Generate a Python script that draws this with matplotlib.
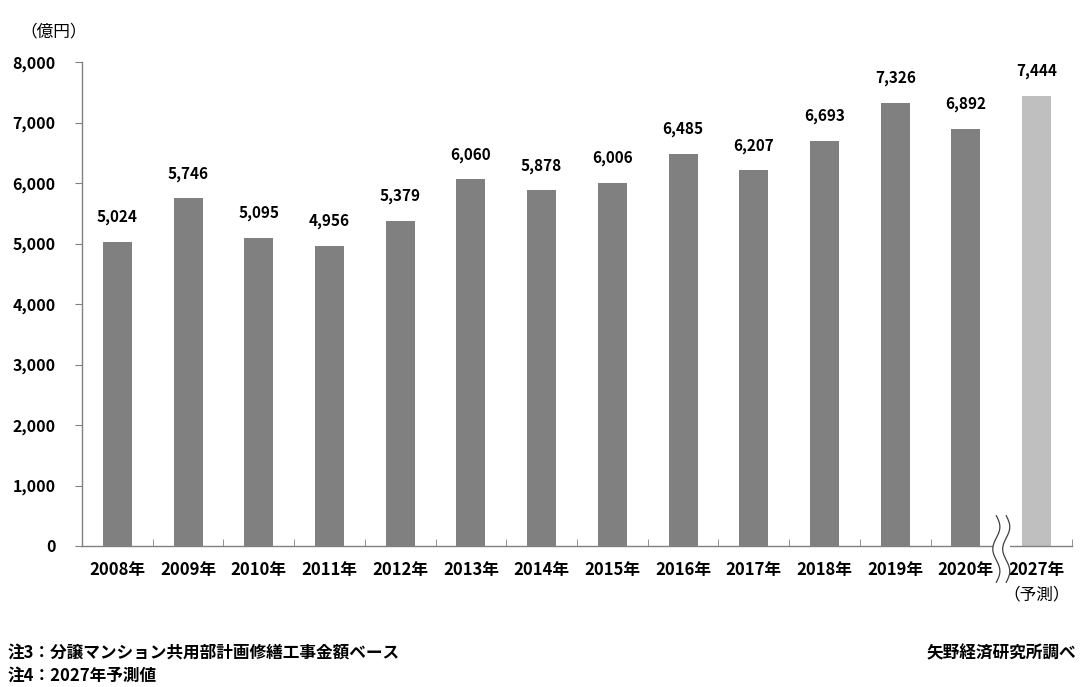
import matplotlib
matplotlib.use("Agg")
import matplotlib.pyplot as plt
import numpy as np
from matplotlib.patches import Rectangle

plt.rcParams['font.family'] = ['Noto Sans CJK JP', 'DejaVu Sans']

years = ["2008年", "2009年", "2010年", "2011年", "2012年", "2013年", "2014年",
         "2015年", "2016年", "2017年", "2018年", "2019年", "2020年", "2027年"]
forecast_note = "（予測）"
values = [5024, 5746, 5095, 4956, 5379, 6060, 5878, 6006, 6485, 6207, 6693, 7326, 6892, 7444]
colors = ["#808080"] * 13 + ["#bfbfbf"]
yticks = [0, 1000, 2000, 3000, 4000, 5000, 6000, 7000, 8000]

W, H = 1082, 687
fig = plt.figure(figsize=(W / 100, H / 100), dpi=100)
ax = fig.add_axes([82 / W, 1 - 546 / H, (1072 - 82) / W, (546 - 62) / H])

x = np.arange(len(years))
ax.bar(x, values, width=0.41, color=colors, zorder=2)
ax.set_xlim(-0.5, len(years) - 0.5)
ax.set_ylim(0, 8000)

for xi, v in zip(x, values):
    ax.annotate(f"{v:,}", (xi, v), xytext=(0, 12), textcoords="offset points",
                ha="center", va="bottom", fontsize=11, fontweight="bold", color="black")

ax.set_yticks(yticks)
ax.set_yticklabels([f"{t:,}" for t in yticks], fontsize=11.5, fontweight="bold")
ax.set_xticks(x)
ax.set_xticklabels(years, fontsize=12, fontweight="bold", va="top")
ax.tick_params(axis="x", length=0, pad=11)
ax.tick_params(axis="y", length=5, color="#808080", pad=14, direction="out")
ax.set_xticks(np.arange(-0.5, len(years)), minor=True)
ax.tick_params(axis="x", which="minor", length=5, direction="in", color="#808080")

ax.annotate(forecast_note, (x[-1], 0), xytext=(0, -29), textcoords="offset points",
            ha="center", va="top", fontsize=12, color="black", annotation_clip=False)

for s in ["top", "right"]:
    ax.spines[s].set_visible(False)
for s in ["left", "bottom"]:
    ax.spines[s].set_color("#808080")
    ax.spines[s].set_linewidth(1.0)

# break mark between 2020 and 2027
bx = 12.5
ax.add_patch(Rectangle((bx - 0.12, -400), 0.24, 800, facecolor="white", edgecolor="none",
                       clip_on=False, zorder=5))
tt = np.linspace(0, 1, 100)
for off in (-0.07, 0.07):
    yy = 500 - tt * 1100
    xx = bx + off + 0.05 * np.sin(tt * 2 * np.pi * 1.5)
    ax.plot(xx, yy, color="#404040", lw=0.9, clip_on=False, zorder=6)

fig.text(20 / W, 1 - 32 / H, "（億円）", fontsize=12, ha="left", va="center")
fig.text(8 / W, 1 - 653 / H, "注3：分譲マンション共用部計画修繕工事金額ベース", fontsize=12,
         fontweight="bold", ha="left", va="center")
fig.text(8 / W, 1 - 676 / H, "注4：2027年予測値", fontsize=12, fontweight="bold",
         ha="left", va="center")
fig.text(1076 / W, 1 - 653 / H, "矢野経済研究所調べ", fontsize=12, fontweight="bold",
         ha="right", va="center")

fig.savefig("out.png", dpi=100, facecolor="white")
